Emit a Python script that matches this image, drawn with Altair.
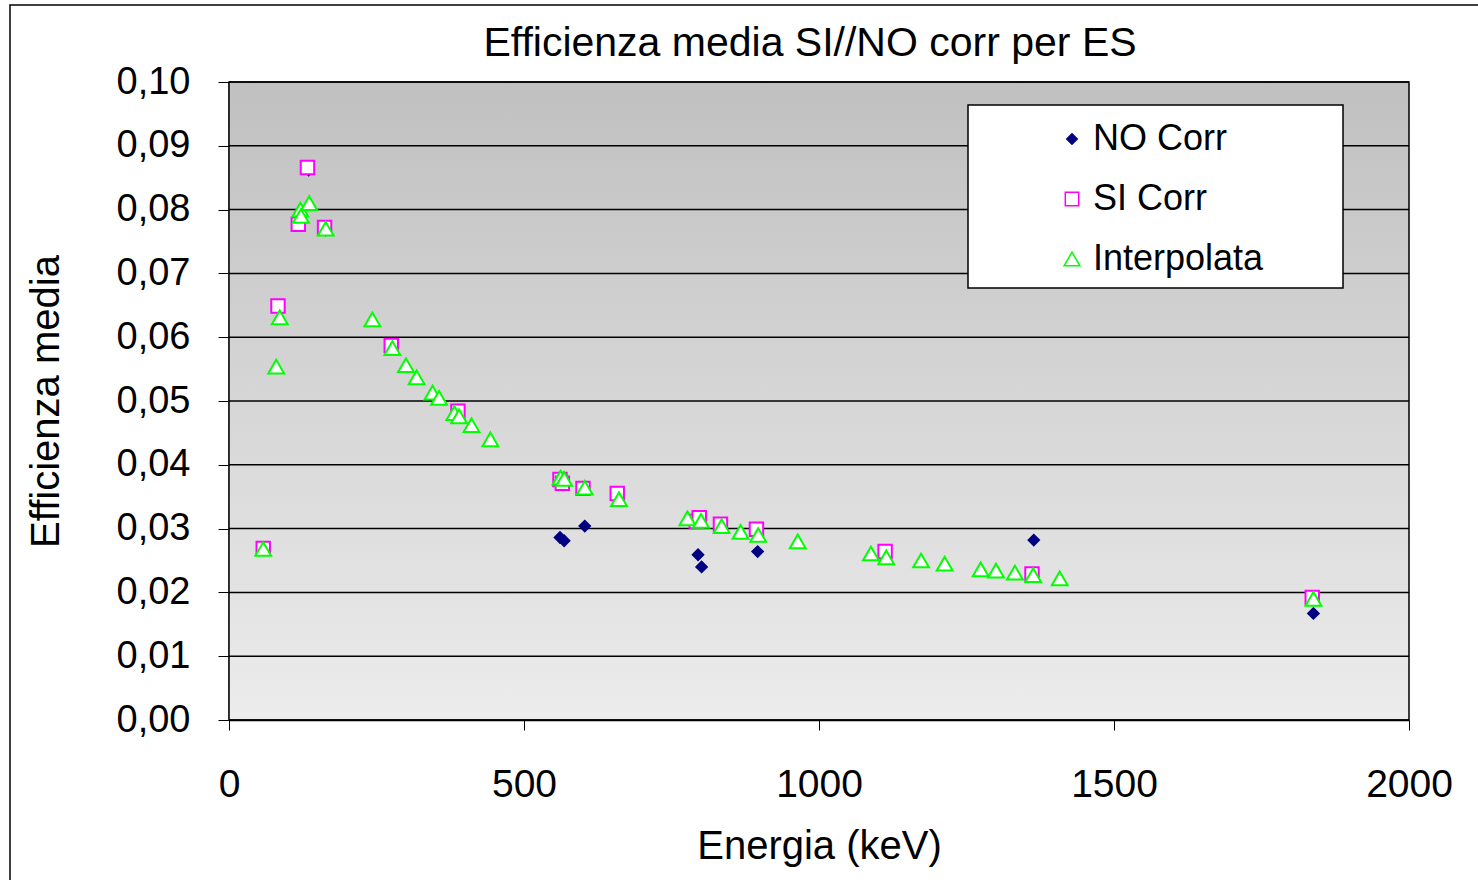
import altair as alt
import pandas as pd

no_x = [58, 83, 117.5, 135, 164, 275, 388, 561, 568, 603, 658, 795, 801, 833, 896, 1112, 1364, 1838]
no_y = [0.0269, 0.0649, 0.0777, 0.0862, 0.0768, 0.0587, 0.0484, 0.0286, 0.0281, 0.0304, 0.0355, 0.0259, 0.0240, 0.0307, 0.0264, 0.0264, 0.0282, 0.0167]

si_x = [58, 83, 117.5, 133, 162, 275, 388, 561, 565, 600, 658, 792, 797, 833, 894, 1112, 1361, 1836]
si_y = [0.0269, 0.0649, 0.0777, 0.0866, 0.0772, 0.0587, 0.0484, 0.0377, 0.0371, 0.0363, 0.0355, 0.0311, 0.0317, 0.0307, 0.0299, 0.0264, 0.0229, 0.0192]

in_x = [58, 80, 86, 121, 122, 136, 164, 243, 277, 300, 318, 345, 356, 382, 390, 411, 443,
        562, 568, 603, 661, 777, 800, 835, 867, 897, 964, 1088, 1114, 1173, 1213, 1274,
        1300, 1332, 1363, 1408, 1838]
in_y = [0.0268, 0.0554, 0.0631, 0.0800, 0.0790, 0.0810, 0.0770, 0.0628, 0.0583, 0.0556, 0.0537,
        0.0513, 0.0505, 0.0481, 0.0476, 0.0462, 0.0440, 0.0380, 0.0378, 0.0364, 0.0346, 0.0316,
        0.0312, 0.0304, 0.0295, 0.0290, 0.0280, 0.0261, 0.0255, 0.0250, 0.0245, 0.0236, 0.0234,
        0.0231, 0.0227, 0.0222, 0.0190]

series_names = ["NO Corr", "SI Corr", "Interpolata"]
y_ticks = [i / 100 for i in range(11)]
x_ticks = [0, 500, 1000, 1500, 2000]
title_text = "Efficienza media SI//NO corr per ES"

rows = []
for i, (xs, ys) in enumerate([(no_x, no_y), (si_x, si_y), (in_x, in_y)]):
    for x, y in zip(xs, ys):
        rows.append({"E": x, "eff": y, "series": series_names[i], "order": i})
df = pd.DataFrame(rows)

W, H = 1180, 638
FONT = "Liberation Sans"
one = pd.DataFrame({"a": [0]})

bg = alt.Chart(one).mark_rect(
    fill=alt.Gradient(gradient="linear",
                      stops=[alt.GradientStop(color="#c0c0c0", offset=0),
                             alt.GradientStop(color="#ececec", offset=1)],
                      x1=0, x2=0, y1=0, y2=1),
    stroke="black", strokeWidth=1.5
).encode(x=alt.value(0), x2=alt.value(W), y=alt.value(0), y2=alt.value(H))

frame = alt.Chart(one).mark_rect(
    fill=None, stroke="black", strokeWidth=1.5, clip=False
).encode(x=alt.value(10 - 229), x2=alt.value(1600), y=alt.value(5 - 82), y2=alt.value(1000))

title = alt.Chart(one).mark_text(
    text=title_text, font=FONT, fontSize=41, color="black", align="center", baseline="middle"
).encode(x=alt.value(581), y=alt.value(-38))

yscale = alt.Scale(domain=[0, 0.1], nice=False)
xscale = alt.Scale(domain=[0, 2000], nice=False)


def yaxis():
    return alt.Axis(values=y_ticks, title="Efficienza media", grid=False,
                    labelFontSize=38, titleFontSize=40, labelFlush=False,
                    tickSize=11, tickColor="black", domainColor="#404040", domainWidth=2,
                    labelPadding=28, titlePadding=50,
                    labelExpr="replace(format(datum.value, '.2f'), '.', ',')")


grid = alt.Chart(pd.DataFrame({"g": y_ticks})).mark_rule(color="black", strokeWidth=1.5).encode(
    y=alt.Y("g:Q", scale=yscale, axis=yaxis(), title="Efficienza media")
)

legend_box = alt.Chart(one).mark_rect(
    fill="white", stroke="black", strokeWidth=1.5
).encode(x=alt.value(968 - 229), x2=alt.value(1343 - 229), y=alt.value(105 - 82), y2=alt.value(288 - 82))


def leg():
    return alt.Legend(title=None, orient="none", legendX=825, legendY=39,
                      labelFontSize=36, labelFont=FONT, labelColor="black", rowPadding=24,
                      labelOffset=3, padding=0, labelLimit=0)


points = alt.Chart(df).mark_point(filled=True, strokeWidth=2, opacity=1).encode(
    x=alt.X("E:Q", scale=xscale,
            axis=alt.Axis(values=x_ticks, title="Energia (keV)", grid=False, format="d",
                          labelFlush=False, labelFontSize=39, titleFontSize=40,
                          tickSize=10, tickColor="black", domainColor="black", domainWidth=1.5,
                          labelPadding=35, titlePadding=22)),
    y=alt.Y("eff:Q", scale=yscale, axis=yaxis(), title="Efficienza media"),
    shape=alt.Shape("series:N", scale=alt.Scale(domain=series_names, range=["diamond", "square", "triangle-up"]),
                    legend=leg()),
    fill=alt.Fill("series:N", scale=alt.Scale(domain=series_names, range=["#000080", "white", "white"]),
                  legend=leg()),
    stroke=alt.Stroke("series:N", scale=alt.Scale(domain=series_names, range=["#000080", "#ff00ff", "#00ff00"]),
                      legend=leg()),
    size=alt.Size("series:N", scale=alt.Scale(domain=series_names, range=[110, 250, 330]),
                  legend=leg()),
    order=alt.Order("order:Q"),
)

chart = alt.layer(frame, bg, grid, title, legend_box, points).properties(
    width=W, height=H,
    autosize=alt.AutoSizeParams(type="none"),
    padding={"left": 229, "top": 82, "right": 69, "bottom": 160},
    background="white",
).resolve_scale(y="shared").configure_axis(
    labelFont=FONT, titleFont=FONT,
    labelColor="black", titleColor="black", titleFontWeight="normal",
).configure_view(stroke=None)

chart.save("out.html", embed_options={"renderer": "svg", "actions": False})
